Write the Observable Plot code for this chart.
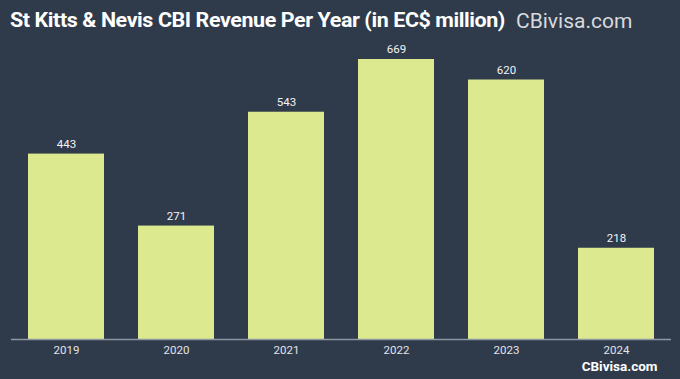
<!DOCTYPE html>
<html><head><meta charset="utf-8">
<script src="https://cdn.jsdelivr.net/npm/d3@7"></script>
<script src="https://cdn.jsdelivr.net/npm/@observablehq/plot@0.6"></script>
<style>
html,body{margin:0;padding:0;background:#2f3b4b;}
#wrap{width:680px;height:379px;background:#2f3b4b;position:relative;overflow:hidden;font-family:Roboto,sans-serif;}
#head{height:40px;position:relative;}
#title{position:absolute;left:10px;top:8px;font-weight:700;font-size:21px;color:#fff;letter-spacing:-0.4px;white-space:nowrap;transform-origin:0 0;}
#brand{position:absolute;left:516px;top:9px;font-size:21px;color:#d8dadd;white-space:nowrap;}
</style></head>
<body><div id="wrap"><div id="head"><div id="title">St Kitts &amp; Nevis CBI Revenue Per Year (in EC$ million)</div><div id="brand">CBivisa.com</div></div><div id="chart"></div></div>
<script>
const years = ["2019","2020","2021","2022","2023","2024"];
const revenue = [443, 271, 543, 669, 620, 218];
const data = years.map((y,i)=>({year:y, value:revenue[i]}));
const t = document.getElementById("title");
const w = t.getBoundingClientRect().width;
t.style.transform = `scaleX(${495/w})`;
const plot = Plot.plot({
  width: 680, height: 339,
  marginLeft: 11, marginRight: 9, marginTop: 19, marginBottom: 40,
  style: {background: "transparent", color: "#e2e4e8", fontFamily: "Roboto, sans-serif", fontSize: "11.5px"},
  x: {domain: years, paddingInner: 0.31, paddingOuter: 0.155, label: null, tickSize: 0, tickPadding: 6},
  y: {domain: [0, 669], axis: null},
  marks: [
    Plot.barY(data, {x: "year", y: "value", fill: "#dde98e"}),
    Plot.ruleY([0], {stroke: "#8e98a4", strokeWidth: 1.5}),
    Plot.text(data, {x: "year", y: "value", text: d => String(d.value), dy: -10, fill: "#f2f3f5", fontSize: 11.5}),
    Plot.text(["CBivisa.com"], {frameAnchor: "bottom-right", dx: -14, dy: 31, fill: "#ffffff", fontSize: 13.5, fontWeight: 700, textAnchor: "end", letterSpacing: "-0.3px"})
  ]
});
document.getElementById("chart").appendChild(plot);
</script></body></html>
